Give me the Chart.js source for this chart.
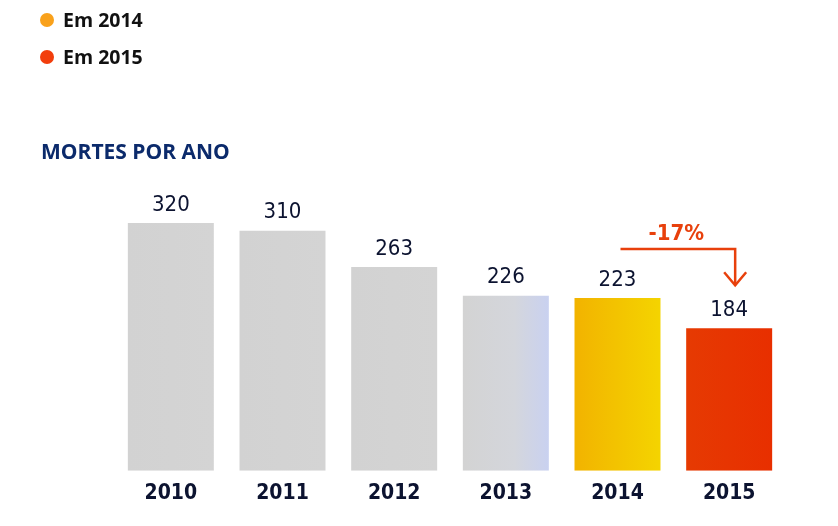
<!DOCTYPE html>
<html>
<head>
<meta charset="utf-8">
<script src="https://cdn.jsdelivr.net/npm/chart.js@4.4.0/dist/chart.umd.min.js"></script>
<style>
  body { margin: 0; background: #fff; font-family: "Open Sans", sans-serif; }
  #wrap { position: relative; width: 838px; height: 526px; }
  #myChart { position: absolute; left: 0; top: 0; }
  .leg { position: absolute; left: 40px; font-weight: 700; font-size: 19.5px; color: #111; }
  .leg span { display: inline-block; width: 14px; height: 14px; border-radius: 50%; margin-right: 9px; vertical-align: 0px; }
  #title { position: absolute; left: 41px; top: 137px; font-weight: 700; font-size: 21px; color: #0b2a6b; }
</style>
</head>
<body>
<div id="wrap">
  <canvas id="myChart" width="838" height="526"></canvas>
  <div class="leg" style="top:6px"><span style="background:#f9a11b"></span>Em 2014</div>
  <div class="leg" style="top:43px"><span style="background:#f23e0c"></span>Em 2015</div>
  <div id="title">MORTES POR ANO</div>
</div>
<script>
const years = ['2010', '2011', '2012', '2013', '2014', '2015'];
const deaths = [320, 310, 263, 226, 223, 184];
const changeLabel = '-17%';

const ctx = document.getElementById('myChart');

function barFill(c) {
  const chart = c.chart;
  const area = chart.chartArea;
  const xs = chart.scales.x;
  if (!area || !xs) return '#d3d3d3';
  const cx = xs.getPixelForValue(c.dataIndex);
  const half = (area.right - area.left) / years.length * 0.77 / 2;
  if (!Number.isFinite(cx) || !Number.isFinite(half)) return '#d3d3d3';
  const g = chart.ctx.createLinearGradient(cx - half, 0, cx + half, 0);
  if (c.dataIndex === 4) {
    g.addColorStop(0, '#f2b300');
    g.addColorStop(1, '#f4d400');
  } else if (c.dataIndex === 5) {
    g.addColorStop(0, '#e63a02');
    g.addColorStop(1, '#e82f00');
  } else if (c.dataIndex === 3) {
    g.addColorStop(0, '#d3d3d3');
    g.addColorStop(0.6, '#d4d6dc');
    g.addColorStop(1, '#c9d1f0');
  } else {
    g.addColorStop(0, '#d2d2d2');
    g.addColorStop(1, '#d4d4d4');
  }
  return g;
}

const labelsPlugin = {
  id: 'labels',
  afterDatasetsDraw(chart) {
    const c = chart.ctx;
    const meta = chart.getDatasetMeta(0);
    c.save();
    c.font = '22px "DejaVu Sans Condensed", "DejaVu Sans", sans-serif';
    c.fillStyle = '#0c1330';
    c.textAlign = 'center';
    c.textBaseline = 'middle';
    meta.data.forEach((el, i) => {
      c.fillText(String(deaths[i]), el.x, el.y - 18);
    });

    // -17% arrow between 2014 and 2015
    const a = meta.data[4], b = meta.data[5];
    const ly = a.y - 49;
    const bx = b.x + 6;
    c.strokeStyle = '#e8400c';
    c.lineWidth = 2.5;
    c.beginPath();
    c.moveTo(a.x + 3, ly);
    c.lineTo(bx, ly);
    c.lineTo(bx, b.y - 43);
    c.stroke();
    c.beginPath();
    c.moveTo(bx - 11, b.y - 56);
    c.lineTo(bx, b.y - 43);
    c.lineTo(bx + 11, b.y - 56);
    c.stroke();
    c.font = 'bold 22px "DejaVu Sans Condensed", "DejaVu Sans", sans-serif';
    c.fillStyle = '#e8400c';
    c.fillText(changeLabel, (a.x + bx) / 2, ly - 15);
    c.restore();
  }
};

new Chart(ctx, {
  type: 'bar',
  data: {
    labels: years,
    datasets: [{
      data: deaths,
      backgroundColor: barFill,
      borderWidth: 0,
      barPercentage: 0.77,
      categoryPercentage: 1
    }]
  },
  options: {
    responsive: false,
    animation: false,
    layout: { padding: { left: 115, right: 53, top: 161, bottom: 18 } },
    plugins: { legend: { display: false }, tooltip: { enabled: false } },
    scales: {
      x: {
        grid: { display: false },
        border: { display: false },
        ticks: {
          color: '#0c1330',
          padding: 2,
          font: { family: '"DejaVu Sans Condensed", "DejaVu Sans", sans-serif', size: 21, weight: 'bold' }
        }
      },
      y: {
        display: false,
        min: 0,
        max: 400
      }
    }
  },
  plugins: [labelsPlugin]
});
</script>
</body>
</html>
